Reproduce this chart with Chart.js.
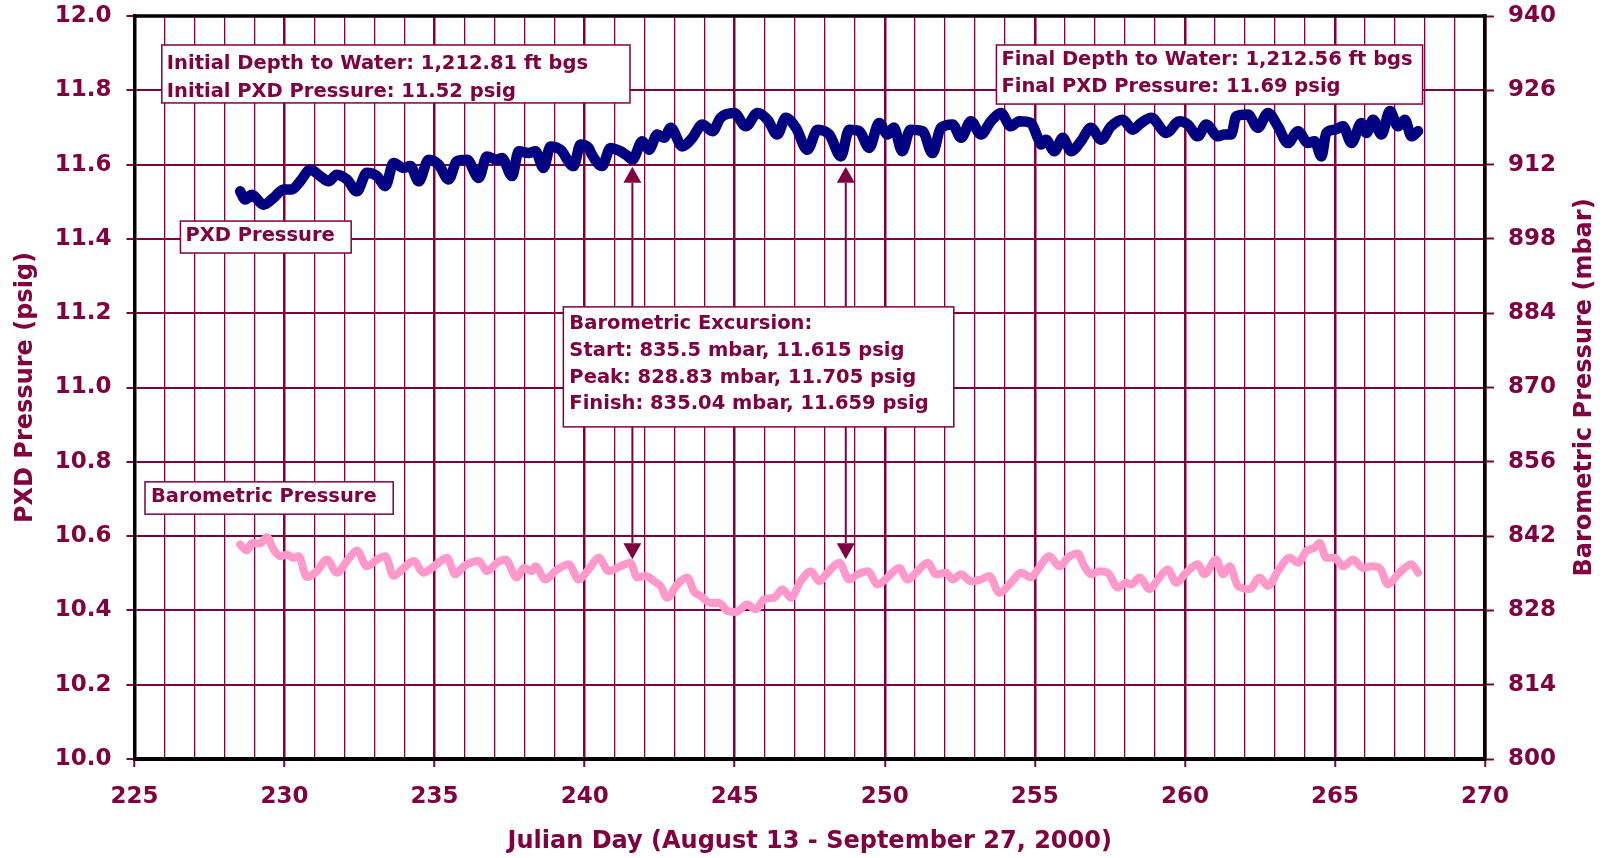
<!DOCTYPE html>
<html>
<head>
<meta charset="utf-8">
<title>PXD and Barometric Pressure</title>
<script src="https://cdn.jsdelivr.net/npm/chart.js@4.4.1/dist/chart.umd.min.js"></script>
<style>
  html, body { margin: 0; padding: 0; background: #ffffff; }
  #wrap { width: 1606px; height: 858px; }
</style>
</head>
<body>
<div id="wrap"><canvas id="chart" width="1606" height="858"></canvas></div>
<script>
// Transducer (PXD) pressure, psig, by Julian day
const pxdDays = [
  228.52, 228.69, 228.91, 229.30, 229.63, 229.97, 230.24, 230.52, 230.86, 231.19,
  231.47, 231.74, 232.08, 232.41, 232.74, 233.08, 233.36, 233.63, 233.97, 234.19,
  234.47, 234.80, 235.13, 235.47, 235.74, 236.08, 236.47, 236.74, 237.08, 237.24,
  237.58, 237.80, 238.13, 238.36, 238.63, 238.86, 239.19, 239.63, 239.86, 240.13,
  240.24, 240.58, 240.86, 241.19, 241.40, 241.59, 241.92, 242.14, 242.42, 242.64,
  242.87, 243.25, 243.59, 243.92, 244.26, 244.53, 244.98, 245.37, 245.76, 246.09,
  246.42, 246.70, 247.04, 247.42, 247.76, 248.15, 248.54, 248.81, 249.15, 249.48,
  249.81, 250.09, 250.30, 250.58, 250.85, 251.26, 251.59, 251.87, 252.26, 252.54,
  252.87, 253.20, 253.54, 253.87, 254.20, 254.48, 254.87, 255.10, 255.21, 255.37,
  255.65, 255.93, 256.21, 256.54, 256.87, 257.21, 257.54, 257.93, 258.26, 258.54,
  258.88, 259.38, 259.82, 260.10, 260.43, 260.71, 261.10, 261.32, 261.54, 261.71,
  262.10, 262.43, 262.77, 263.10, 263.43, 263.77, 264.10, 264.32, 264.55, 264.71,
  264.99, 265.27, 265.55, 265.88, 266.05, 266.27, 266.55, 266.83, 267.10, 267.33,
  267.55, 267.77
];
const pxdPsig = [
  11.528, 11.506, 11.519, 11.492, 11.510, 11.533, 11.533, 11.555, 11.587, 11.569,
  11.555, 11.573, 11.560, 11.528, 11.578, 11.569, 11.542, 11.604, 11.591, 11.596,
  11.555, 11.613, 11.600, 11.560, 11.609, 11.613, 11.564, 11.622, 11.613, 11.618,
  11.569, 11.636, 11.631, 11.636, 11.591, 11.649, 11.640, 11.596, 11.654, 11.645,
  11.627, 11.596, 11.645, 11.636, 11.625, 11.613, 11.663, 11.640, 11.681, 11.672,
  11.699, 11.649, 11.672, 11.708, 11.690, 11.726, 11.739, 11.703, 11.739, 11.721,
  11.681, 11.726, 11.699, 11.640, 11.694, 11.681, 11.622, 11.694, 11.690, 11.645,
  11.712, 11.681, 11.700, 11.636, 11.694, 11.690, 11.631, 11.699, 11.708, 11.672,
  11.717, 11.681, 11.717, 11.739, 11.703, 11.717, 11.712, 11.672, 11.654, 11.667,
  11.636, 11.672, 11.636, 11.663, 11.699, 11.667, 11.703, 11.721, 11.694, 11.712,
  11.726, 11.685, 11.717, 11.708, 11.676, 11.708, 11.676, 11.681, 11.681, 11.730,
  11.735, 11.699, 11.739, 11.703, 11.658, 11.690, 11.658, 11.663, 11.622, 11.685,
  11.694, 11.703, 11.658, 11.712, 11.685, 11.721, 11.681, 11.744, 11.703, 11.721,
  11.676, 11.690
];

// Barometric pressure, mbar, by Julian day
const baroDays = [
  228.52, 228.74, 228.91, 229.19, 229.41, 229.63, 229.86, 230.08, 230.30, 230.47,
  230.74, 231.08, 231.41, 231.74, 232.08, 232.41, 232.74, 233.08, 233.36, 233.63,
  233.97, 234.30, 234.63, 234.91, 235.13, 235.41, 235.69, 235.97, 236.47, 236.74,
  237.08, 237.36, 237.74, 237.97, 238.24, 238.36, 238.69, 239.02, 239.47, 239.80,
  240.13, 240.47, 240.80, 241.19, 241.52, 241.75, 242.03, 242.31, 242.53, 242.75,
  243.09, 243.42, 243.64, 243.87, 244.20, 244.48, 244.76, 245.03, 245.42, 245.70,
  245.98, 246.31, 246.59, 246.87, 247.20, 247.54, 247.81, 248.09, 248.48, 248.81,
  249.09, 249.43, 249.76, 250.09, 250.48, 250.76, 251.09, 251.43, 251.71, 252.04,
  252.26, 252.54, 252.87, 253.20, 253.48, 253.82, 254.20, 254.54, 254.87, 255.10,
  255.48, 255.82, 256.10, 256.43, 256.65, 256.87, 257.15, 257.43, 257.76, 258.04,
  258.21, 258.49, 258.82, 259.10, 259.43, 259.71, 259.99, 260.43, 260.65, 261.04,
  261.27, 261.49, 261.77, 262.16, 262.49, 262.77, 263.10, 263.49, 263.77, 264.05,
  264.32, 264.49, 264.71, 264.99, 265.27, 265.60, 265.94, 266.21, 266.49, 266.77,
  267.10, 267.55, 267.77
];
const baroMbar = [
  840.4, 839.3, 840.7, 840.6, 841.8, 839.5, 838.2, 838.5, 837.9, 838.2,
  834.3, 835.4, 837.6, 835.1, 837.3, 839.3, 836.3, 837.6, 838.2, 834.5,
  836.0, 837.3, 835.1, 836.0, 837.0, 837.9, 834.8, 836.3, 837.3, 835.4,
  837.0, 837.6, 834.2, 836.0, 835.4, 836.3, 833.8, 835.4, 836.7, 833.8,
  835.7, 837.9, 835.4, 836.3, 837.0, 834.2, 834.5, 833.5, 832.6, 830.4,
  832.9, 834.2, 831.6, 830.7, 829.4, 829.4, 827.9, 827.7, 829.1, 828.2,
  830.1, 830.4, 832.0, 830.4, 833.5, 835.4, 833.5, 835.1, 837.0, 833.8,
  834.8, 835.4, 832.9, 834.2, 836.0, 833.8, 835.4, 837.0, 834.8, 835.1,
  833.8, 834.8, 833.5, 833.8, 834.5, 831.3, 833.2, 835.1, 834.2, 835.7,
  838.2, 836.3, 837.9, 838.7, 836.3, 834.8, 835.4, 835.1, 832.3, 833.2,
  832.9, 834.2, 832.0, 833.8, 835.7, 833.2, 834.8, 836.7, 834.8, 837.6,
  834.8, 836.3, 832.6, 832.0, 834.2, 832.6, 835.4, 837.9, 837.0, 839.2,
  839.8, 840.7, 837.9, 837.9, 836.3, 837.6, 836.0, 836.3, 836.0, 832.9,
  834.8, 836.7, 835.1
];

// Axis ticks
const dayLabels = [225, 230, 235, 240, 245, 250, 255, 260, 265, 270];
const psigTicks = [10.0, 10.2, 10.4, 10.6, 10.8, 11.0, 11.2, 11.4, 11.6, 11.8, 12.0];
const mbarTicks = [800, 814, 828, 842, 856, 870, 884, 898, 912, 926, 940];

// Text of the callout boxes
const initialLines = ['Initial Depth to Water: 1,212.81 ft bgs', 'Initial PXD Pressure: 11.52 psig'];
const finalLines = ['Final Depth to Water: 1,212.56 ft bgs', 'Final PXD Pressure: 11.69 psig'];
const excursionLines = [
  'Barometric Excursion:',
  'Start: 835.5 mbar, 11.615 psig',
  'Peak: 828.83 mbar, 11.705 psig',
  'Finish: 835.04 mbar, 11.659 psig'
];
// Days at which the excursion start and finish are marked
const excursionDays = [241.59, 248.70];

const MAROON = '#800040';
const FONT = '"DejaVu Sans", "Liberation Sans", Arial, sans-serif';

const pxdPoints = pxdDays.map((d, i) => ({ x: d, y: pxdPsig[i] }));
const baroPoints = baroDays.map((d, i) => ({ x: d, y: baroMbar[i] }));

const isMajor = v => Math.abs(v / 5 - Math.round(v / 5)) < 1e-6;

// Boxes: corners in (day, psig); text rows as psig centres
const boxes = [
  { x0: 225.91, x1: 241.51, y0: 11.922, y1: 11.766, pad: 5, rows: [11.8735, 11.798], lines: initialLines },
  { x0: 253.72, x1: 267.92, y0: 11.922, y1: 11.763, pad: 5, rows: [11.884, 11.812], lines: finalLines },
  { x0: 226.53, x1: 232.22, y0: 11.448, y1: 11.362, pad: 5, rows: [11.410], lines: ['PXD Pressure'] },
  { x0: 225.35, x1: 233.62, y0: 10.746, y1: 10.659, pad: 6, rows: [10.708], lines: ['Barometric Pressure'] },
  { x0: 239.29, x1: 252.30, y0: 11.217, y1: 10.894, pad: 6, rows: [11.174, 11.101, 11.028, 10.958], lines: excursionLines }
];

function drawArrow(ctx, x, yFrom, yTip) {
  const dir = yTip < yFrom ? 1 : -1;   // 1: points up
  const headH = 16, headW = 9;
  ctx.beginPath();
  ctx.moveTo(x, yFrom);
  ctx.lineTo(x, yTip + dir * headH);
  ctx.stroke();
  ctx.beginPath();
  ctx.moveTo(x, yTip);
  ctx.lineTo(x - headW, yTip + dir * headH);
  ctx.lineTo(x + headW, yTip + dir * headH);
  ctx.closePath();
  ctx.fill();
}

const notesPlugin = {
  id: 'notes',
  afterDraw(chart) {
    const { ctx, chartArea: a, scales: { x, y } } = chart;
    ctx.save();

    // top edge of the plot frame
    ctx.strokeStyle = '#000000';
    ctx.lineWidth = 3.5;
    ctx.beginPath();
    ctx.moveTo(a.left - 1.75, a.top);
    ctx.lineTo(a.right + 1.75, a.top);
    ctx.stroke();

    // arrows marking the excursion start and finish
    ctx.strokeStyle = MAROON;
    ctx.fillStyle = MAROON;
    ctx.lineWidth = 2;
    const ex = boxes[4];
    excursionDays.forEach(d => {
      const px = x.getPixelForValue(d);
      drawArrow(ctx, px, y.getPixelForValue(ex.y0), y.getPixelForValue(11.594));
      drawArrow(ctx, px, y.getPixelForValue(ex.y1), y.getPixelForValue(10.538));
    });

    // callout boxes
    ctx.font = 'bold 19.5px ' + FONT;
    ctx.textBaseline = 'middle';
    ctx.textAlign = 'left';
    boxes.forEach(b => {
      const L = x.getPixelForValue(b.x0), R = x.getPixelForValue(b.x1);
      const T = y.getPixelForValue(b.y0), B = y.getPixelForValue(b.y1);
      ctx.fillStyle = '#ffffff';
      ctx.fillRect(L, T, R - L, B - T);
      ctx.strokeStyle = MAROON;
      ctx.lineWidth = 1.5;
      ctx.strokeRect(L, T, R - L, B - T);
      ctx.fillStyle = MAROON;
      b.lines.forEach((t, i) => ctx.fillText(t, L + b.pad, y.getPixelForValue(b.rows[i]) + 1));
    });

    // right axis title, read bottom to top
    ctx.font = 'bold 24px ' + FONT;
    ctx.textAlign = 'center';
    ctx.fillStyle = MAROON;
    ctx.translate(a.right + 100, (a.top + a.bottom) / 2);
    ctx.rotate(-Math.PI / 2);
    ctx.fillText('Barometric Pressure (mbar)', 0, 0);
    ctx.restore();
  }
};

const tickFont = { family: FONT, size: 23, weight: 'bold' };
const titleFont = { family: FONT, size: 24, weight: 'bold' };

// vertical axes: fixed width, no extra room above/below the plot
const fitVertical = w => s => { s.width = w; s.paddingTop = 0; s.paddingBottom = 0; };

new Chart(document.getElementById('chart'), {
  type: 'line',
  data: {
    datasets: [
      {
        label: 'PXD Pressure',
        data: pxdPoints,
        yAxisID: 'y',
        borderColor: '#000080',
        borderWidth: 10.5,
        pointRadius: 0,
        cubicInterpolationMode: 'monotone',
        borderJoinStyle: 'round',
        borderCapStyle: 'round',
        fill: false
      },
      {
        label: 'Barometric Pressure',
        data: baroPoints,
        yAxisID: 'y2',
        borderColor: '#ff99cc',
        borderWidth: 8,
        pointRadius: 0,
        cubicInterpolationMode: 'monotone',
        borderJoinStyle: 'round',
        borderCapStyle: 'round',
        fill: false
      }
    ]
  },
  options: {
    responsive: false,
    devicePixelRatio: 1,
    animation: false,
    parsing: false,
    layout: { padding: { top: 16, left: 0, right: 0, bottom: 0 } },
    plugins: { legend: { display: false }, tooltip: { enabled: false } },
    scales: {
      x: {
        type: 'linear',
        min: 225,
        max: 270,
        afterFit: s => { s.height = 99; s.paddingLeft = 0; s.paddingRight = 0; },
        ticks: {
          stepSize: 1,
          autoSkip: false,
          maxRotation: 0,
          padding: 16,
          color: MAROON,
          font: tickFont,
          callback: v => (dayLabels.includes(Math.round(v)) && isMajor(v) ? String(Math.round(v)) : '')
        },
        grid: {
          color: MAROON,
          lineWidth: c => (c.tick && isMajor(c.tick.value) ? 2.5 : 1.3),
          tickColor: c => (c.tick && isMajor(c.tick.value) ? MAROON : 'rgba(0,0,0,0)'),
          tickLength: 8,
          tickWidth: 2
        },
        border: { color: '#000000', width: 4 },
        title: {
          display: true,
          text: 'Julian Day (August 13 - September 27, 2000)',
          color: MAROON,
          font: titleFont,
          padding: { top: 0, bottom: 1.6 }
        }
      },
      y: {
        position: 'left',
        min: 10,
        max: 12,
        afterFit: fitVertical(134.5),
        afterBuildTicks: s => { s.ticks = psigTicks.map(v => ({ value: v })); },
        ticks: {
          stepSize: 0.2,
          padding: 15,
          color: MAROON,
          font: tickFont,
          callback: v => Number(v).toFixed(1)
        },
        grid: { color: MAROON, lineWidth: 2, tickLength: 8, tickWidth: 2 },
        border: { color: '#000000', width: 3.5 },
        title: {
          display: true,
          text: 'PXD Pressure (psig)',
          color: MAROON,
          font: titleFont,
          padding: { top: 11.6, bottom: 0 }
        }
      },
      y2: {
        position: 'right',
        min: 800,
        max: 940,
        afterFit: fitVertical(121),
        afterBuildTicks: s => { s.ticks = mbarTicks.map(v => ({ value: v })); },
        ticks: {
          padding: 14,
          color: MAROON,
          font: tickFont,
          callback: v => String(Math.round(v))
        },
        grid: { drawOnChartArea: false, color: MAROON, tickLength: 9, tickWidth: 2 },
        border: { color: '#000000', width: 3.5 }
      }
    }
  },
  plugins: [notesPlugin]
});
</script>
</body>
</html>
